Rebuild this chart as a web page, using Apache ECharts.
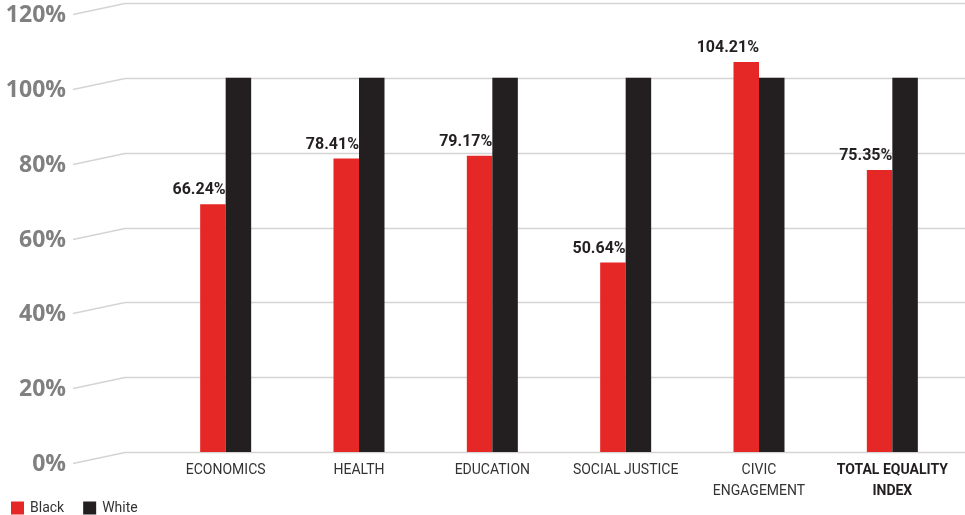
<!DOCTYPE html>
<html>
<head>
<meta charset="utf-8">
<script src="https://cdn.jsdelivr.net/npm/echarts@6/dist/echarts.min.js"></script>
<style>
  html, body { margin: 0; padding: 0; background: #fff; }
  #chart { width: 965px; height: 515px; }
</style>
</head>
<body>
<div id="chart"></div>
<script>
// Equality index by area: Black vs White (White = 100% baseline)
const categories = ['ECONOMICS', 'HEALTH', 'EDUCATION', 'SOCIAL JUSTICE', 'CIVIC\nENGAGEMENT', 'TOTAL EQUALITY\nINDEX'];
const blackValues = [66.24, 78.41, 79.17, 50.64, 104.21, 75.35];
const whiteValues = [100, 100, 100, 100, 100, 100];
const yTicks = [0, 20, 40, 60, 80, 100, 120];

const RED = '#e52826';
const DARK = '#231f20';
const NARROW = 'Roboto, "Liberation Sans", sans-serif';

const chart = echarts.init(document.getElementById('chart'), null, { renderer: 'canvas' });

chart.setOption({
  animation: false,
  backgroundColor: '#ffffff',
  grid: { left: 159, right: 6, top: 3, bottom: 63, containLabel: false, outerBoundsMode: 'none' },
  legend: {
    left: 6,
    top: 496,
    itemWidth: 13,
    itemHeight: 13,
    itemGap: 19,
    icon: 'rect',
    textStyle: { fontFamily: NARROW, fontSize: 14, color: '#333', padding: [0, 0, 0, 1] },
    data: ['Black', 'White']
  },
  xAxis: {
    type: 'category',
    data: categories,
    axisLine: { show: false },
    axisTick: { show: false },
    splitLine: { show: false },
    axisLabel: {
      interval: 0,
      margin: 8,
      fontFamily: NARROW,
      fontSize: 14,
      color: '#333',
      lineHeight: 21,
      formatter: function (v, i) {
        return i === categories.length - 1 ? '{b|' + v.replace('\n', '}\n{b|') + '}' : v;
      },
      rich: {
        b: { fontFamily: NARROW, fontSize: 14, fontWeight: 'bold', color: '#231f20', lineHeight: 21 }
      }
    }
  },
  yAxis: {
    type: 'value',
    min: yTicks[0],
    max: yTicks[yTicks.length - 1],
    interval: yTicks[1] - yTicks[0],
    axisLine: { show: false },
    axisTick: { show: false },
    splitLine: { show: false },
    axisLabel: {
      margin: 93,
      verticalAlign: 'top',
      padding: [1, 0, 0, 0],
      fontFamily: '"Open Sans", Lato, sans-serif',
      fontWeight: 'bold',
      fontSize: 23,
      color: '#808080',
      formatter: '{value}%'
    }
  },
  series: [
    {
      name: 'Black',
      type: 'bar',
      data: blackValues,
      barWidth: 25.5,
      barGap: '0%',
      itemStyle: { color: RED },
      label: {
        show: true,
        position: ['100%', -6],
        align: 'right',
        verticalAlign: 'bottom',
        fontFamily: NARROW,
        fontWeight: 'bold',
        fontSize: 16,
        color: DARK,
        formatter: function (p) { return p.value.toFixed(2) + '%'; }
      },
      z: 3
    },
    {
      name: 'White',
      type: 'bar',
      data: whiteValues,
      barWidth: 25.5,
      barGap: '0%',
      itemStyle: { color: DARK },
      z: 3
    }
  ]
});

// Gridlines with a slanted lead-in toward each tick label
const gridRight = 965;
const lines = yTicks.map(function (v) {
  const y = Math.round(chart.convertToPixel({ yAxisIndex: 0 }, v)) + 0.5;
  return {
    type: 'polyline',
    z: 0,
    silent: true,
    shape: { points: [[73, y + 11], [125, y], [gridRight, y]] },
    style: { stroke: '#d4d4d4', lineWidth: 1.5, fill: null }
  };
});
chart.setOption({ graphic: lines });
</script>
</body>
</html>
